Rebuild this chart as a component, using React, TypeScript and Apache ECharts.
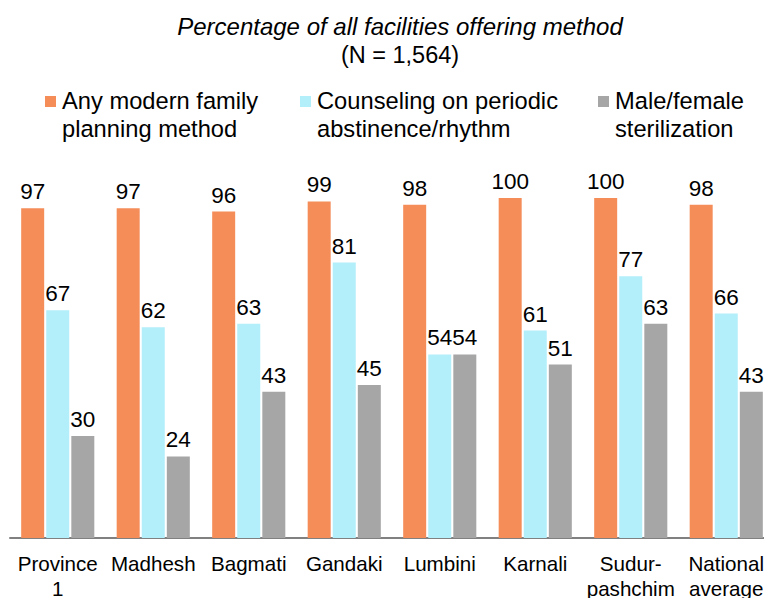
import React, { useEffect, useRef } from "react";
import * as echarts from "echarts";

const categories = ["Province\n1", "Madhesh", "Bagmati", "Gandaki", "Lumbini", "Karnali", "Sudur-\npashchim", "National\naverage"];
const seriesNames = ["Any modern family\nplanning method", "Counseling on periodic\nabstinence/rhythm", "Male/female\nsterilization"];
const anyModern = [97, 97, 96, 99, 98, 100, 100, 98];
const counseling = [67, 62, 63, 81, 54, 61, 77, 66];
const sterilization = [30, 24, 43, 45, 54, 51, 63, 43];
const colors = ["#F58D59", "#B3EEFB", "#A6A6A6"];
const titleText = "Percentage of all facilities offering method";
const subtitleText = "(N = 1,564)";

const FONT = "'Liberation Sans', Arial, sans-serif";

export default function App() {
  const ref = useRef<HTMLDivElement>(null);
  useEffect(() => {
    if (!ref.current) return;
    const chart = echarts.init(ref.current, undefined, { renderer: "svg" });
    const data = [anyModern, counseling, sterilization];
    const legendX = [45, 300, 598];
    const graphic: any[] = [];
    seriesNames.forEach((name, i) => {
      graphic.push({
        type: "rect",
        shape: { x: legendX[i], y: 96, width: 11, height: 11 },
        style: { fill: colors[i] },
      });
      graphic.push({
        type: "text",
        x: legendX[i] + 17,
        y: 87,
        style: {
          text: name,
          fill: "#000",
          font: `23.7px ${FONT}`,
          lineHeight: 28,
          verticalAlign: "top",
        },
      });
    });
    chart.setOption({
      animation: false,
      textStyle: { fontFamily: FONT },
      title: {
        text: titleText,
        subtext: subtitleText,
        left: 395,
        top: 9,
        textAlign: "center",
        itemGap: 5,
        textStyle: { fontSize: 24, fontStyle: "italic", fontWeight: "normal", color: "#000", fontFamily: FONT },
        subtextStyle: { fontSize: 23.5, color: "#000", fontFamily: FONT },
      },
      graphic,
      grid: { left: 10, right: 0, top: 198, bottom: 60, containLabel: false, outerBoundsMode: "none" },
      xAxis: {
        type: "category",
        data: categories,
        axisLine: { lineStyle: { color: "#808080", width: 2 } },
        axisTick: { show: false },
        axisLabel: { interval: 0, color: "#000", fontSize: 20.6, lineHeight: 25, margin: 13, fontFamily: FONT },
      },
      yAxis: { type: "value", min: 0, max: 100, show: false, splitLine: { show: false } },
      series: seriesNames.map((name, i) => ({
        type: "bar",
        name,
        data: data[i],
        barWidth: 23,
        barGap: "9%",
        itemStyle: { color: colors[i] },
        label: { show: true, position: "top", color: "#000", fontSize: 22.5, distance: 5, fontFamily: FONT },
      })),
    });
    return () => chart.dispose();
  }, []);
  return (
    <div style={{ position: "absolute", left: 0, top: 0, width: 764, height: 598, overflow: "hidden" }}>
      <div ref={ref} style={{ width: 774, height: 598 }} />
    </div>
  );
}
